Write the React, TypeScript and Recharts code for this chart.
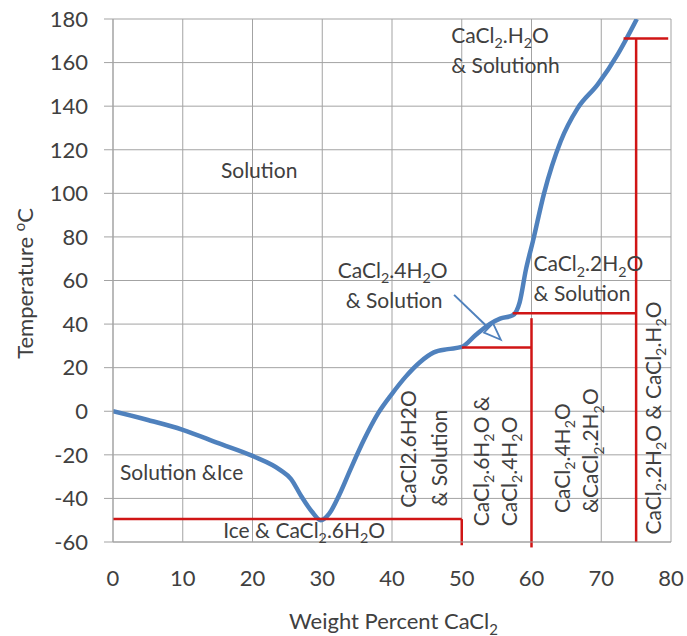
import React from 'react';
import {
  ComposedChart,
  Line,
  XAxis,
  YAxis,
  CartesianGrid,
  ReferenceLine,
  ReferenceDot,
} from 'recharts';

// liquidus curve
const weightPct = [
  0, 5, 10, 15, 20, 24, 25.5, 27, 28.5, 29.8, 31, 32.5, 34, 36, 38, 40, 42, 44, 46, 48, 50, 52, 54,
  55.5, 57.3, 58.3, 59.2, 60.2, 61.8, 64.2, 66.6, 69.5, 72.4, 75.1,
];
const temperature = [
  0, -4, -8.5, -14.5, -20.5, -27, -31, -39, -46, -50, -47, -38, -27, -13, -1, 8, 16, 22.5, 27, 28.5,
  29.5, 35, 40, 42.5, 44, 50, 65, 78, 100, 124, 139, 150, 164, 180,
];

const xTicks = [0, 10, 20, 30, 40, 50, 60, 70, 80];
const yTicks = [-60, -40, -20, 0, 20, 40, 60, 80, 100, 120, 140, 160, 180];

// phase boundaries (wt %, °C)
const boundaries = [
  { x1: 0, y1: -49.5, x2: 50, y2: -49.5 },
  { x1: 50, y1: -49.5, x2: 50, y2: -61.5 },
  { x1: 50, y1: 29.3, x2: 60, y2: 29.3 },
  { x1: 60, y1: 42.7, x2: 60, y2: -62.5 },
  { x1: 57.3, y1: 45, x2: 75, y2: 45 },
  { x1: 75, y1: 171, x2: 75, y2: -60 },
  { x1: 73.2, y1: 171, x2: 79.6, y2: 171 },
];

// "_" = subscript next char, "^" = superscript next char
const flatLabels = [
  { text: 'Solution', x: 20.95, y: 107, anchor: 'middle' },
  { text: 'CaCl_2.H_2O', x: 48.5, y: 169, anchor: 'start' },
  { text: '& Solutionh', x: 48.5, y: 155.2, anchor: 'start' },
  { text: 'CaCl_2.4H_2O', x: 40.1, y: 61.2, anchor: 'middle' },
  { text: '& Solution', x: 40.3, y: 47.4, anchor: 'middle' },
  { text: 'CaCl_2.2H_2O', x: 60.3, y: 64.2, anchor: 'start' },
  { text: '& Solution', x: 60.3, y: 50.4, anchor: 'start' },
  { text: 'Solution &Ice', x: 1, y: -31.4, anchor: 'start' },
  { text: 'Ice & CaCl_2.6H_2O', x: 15.8, y: -58.2, anchor: 'start' },
];

const verticalLabels = [
  { text: 'CaCl2.6H2O', x: 43.5, y: -44.3 },
  { text: '& Solution', x: 47.9, y: -43.7 },
  { text: 'CaCl_2.6H_2O &', x: 53.9, y: -52.8 },
  { text: 'CaCl_2.4H_2O', x: 57.9, y: -52.8 },
  { text: 'CaCl_2.4H_2O', x: 65.5, y: -46.7 },
  { text: '&CaCl_2.2H_2O', x: 69.6, y: -46.7 },
  { text: 'CaCl_2.2H_2O & CaCl_2.H_2O', x: 78.6, y: -56.6 },
];

const arrow = { x1: 48.9, y1: 53.4, x2: 55.6, y2: 32.8 };

const data = weightPct.map((x, i) => ({ x, t: temperature[i] }));

const FONT = 'Lato, "Open Sans", sans-serif';
const TEXT = '#404040';
const BLUE = '#4f81bd';
const RED = '#d01515';
const GRID = '#a3a3a3';

function chemSpans(s: string, size: number) {
  const segs: { text: string; kind: number }[] = [];
  for (let i = 0; i < s.length; i++) {
    let kind = 0;
    let ch = s[i];
    if (ch === '_' || ch === '^') {
      kind = ch === '_' ? 1 : -1;
      ch = s[++i];
    }
    const last = segs[segs.length - 1];
    if (last && last.kind === kind) last.text += ch;
    else segs.push({ text: ch, kind });
  }
  let cur = 0;
  return segs.map((g, i) => {
    const target = g.kind === 1 ? size * 0.25 : g.kind === -1 ? -size * 0.35 : 0;
    const dy = target - cur;
    cur = target;
    return (
      <tspan key={i} dy={dy} fontSize={g.kind ? size * 0.68 : size}>
        {g.text}
      </tspan>
    );
  });
}

function ChemText({ x, y, text, anchor = 'start', rotate = false, size = 21, fill = TEXT }: any) {
  return (
    <text
      x={x}
      y={y}
      textAnchor={anchor}
      fontSize={size}
      fill={fill}
      fontFamily={FONT}
      transform={rotate ? `rotate(-90, ${x}, ${y})` : undefined}
    >
      {chemSpans(text, size)}
    </text>
  );
}

function ArrowShape(props: any) {
  const { x1, y1, x2, y2 } = props;
  const dx = x2 - x1;
  const dy = y2 - y1;
  const len = Math.sqrt(dx * dx + dy * dy);
  const ux = dx / len;
  const uy = dy / len;
  const bx = x2 - ux * 17;
  const by = y2 - uy * 17;
  const w = 6.5;
  const pts = `${x2},${y2} ${bx - uy * w},${by + ux * w} ${bx + uy * w},${by - ux * w}`;
  return (
    <g>
      <line x1={x1} y1={y1} x2={bx} y2={by} stroke={BLUE} strokeWidth={2} />
      <polygon points={pts} fill="none" stroke={BLUE} strokeWidth={1.8} strokeLinejoin="miter" />
    </g>
  );
}

export default function App() {
  return (
    <div style={{ position: 'absolute', left: 0, top: 0, fontFamily: FONT }}>
      <ComposedChart width={687} height={636} data={data} margin={{ top: 19, right: 16, bottom: 0, left: 0 }}>
        <CartesianGrid stroke={GRID} strokeWidth={1} />
        <XAxis
          type="number"
          dataKey="x"
          domain={[0, 80]}
          ticks={xTicks}
          interval={0}
          allowDataOverflow
          height={94}
          axisLine={{ stroke: GRID }}
          tickLine={false}
          tickSize={10}
          tickMargin={18}
          tick={{ fill: TEXT, fontSize: 22, fontFamily: FONT }}
          label={{
            content: (p: any) => {
              const vb = p.viewBox;
              return (
                <ChemText
                  x={vb.x + vb.width / 2 + 1.5}
                  y={vb.y + 87}
                  anchor="middle"
                  size={22}
                  text="Weight Percent CaCl_2"
                />
              );
            },
          }}
        />
        <YAxis
          type="number"
          domain={[-60, 180]}
          ticks={yTicks}
          interval={0}
          allowDataOverflow
          width={113}
          axisLine={{ stroke: GRID }}
          tickLine={{ stroke: GRID }}
          tickSize={9}
          tickMargin={16}
          tick={{ fill: TEXT, fontSize: 22, fontFamily: FONT }}
          label={{
            content: (p: any) => {
              const vb = p.viewBox;
              return (
                <ChemText
                  x={vb.x + 33}
                  y={vb.y + vb.height / 2 + 3}
                  anchor="middle"
                  rotate
                  size={22}
                  text="Temperature ^oC"
                />
              );
            },
          }}
        />
        <Line
          type="monotone"
          dataKey="t"
          stroke={BLUE}
          strokeWidth={4.5}
          dot={false}
          activeDot={false}
          isAnimationActive={false}
        />
        {boundaries.map((b, i) => (
          <ReferenceLine
            key={'b' + i}
            segment={[
              { x: b.x1, y: b.y1 },
              { x: b.x2, y: b.y2 },
            ]}
            stroke={RED}
            strokeWidth={2.5}
            ifOverflow="visible"
          />
        ))}
        <ReferenceLine
          segment={[
            { x: arrow.x1, y: arrow.y1 },
            { x: arrow.x2, y: arrow.y2 },
          ]}
          shape={(p: any) => <ArrowShape {...p} />}
          ifOverflow="visible"
        />
        {flatLabels.map((l, i) => (
          <ReferenceDot
            key={'f' + i}
            x={l.x}
            y={l.y}
            r={0}
            ifOverflow="visible"
            shape={(p: any) => <ChemText x={p.cx} y={p.cy} text={l.text} anchor={l.anchor} />}
          />
        ))}
        {verticalLabels.map((l, i) => (
          <ReferenceDot
            key={'v' + i}
            x={l.x}
            y={l.y}
            r={0}
            ifOverflow="visible"
            shape={(p: any) => <ChemText x={p.cx} y={p.cy} text={l.text} rotate />}
          />
        ))}
      </ComposedChart>
    </div>
  );
}
